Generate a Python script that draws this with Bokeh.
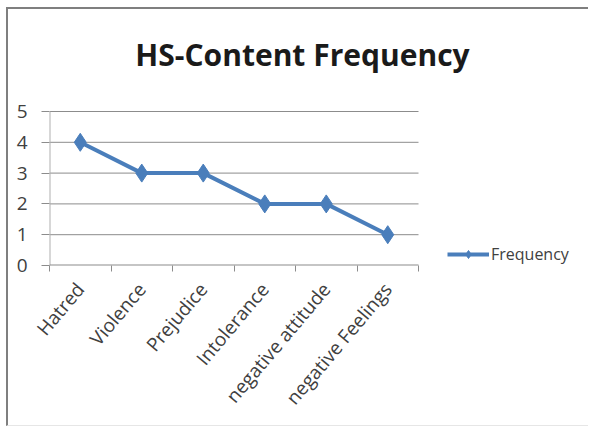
import numpy as np
from bokeh.plotting import figure
from bokeh.models import (Range1d, FixedTicker, Legend, LegendItem, Label,
                          ColumnDataSource)
from bokeh.embed import file_html
from bokeh.resources import INLINE

# Hate-speech content categories and how often each occurred
categories = ["Hatred", "Violence", "Prejudice", "Intolerance",
              "negative attitude", "negative Feelings"]
frequency = [4, 3, 3, 2, 2, 1]
y_ticks = [0, 1, 2, 3, 4, 5]
series_name = "Frequency"
chart_title = "HS-Content Frequency"

BLUE = "#4A7EBB"
GRID = "#8C8C8C"
TEXT = "#404040"
FONT = "Open Sans"

W, H = 582, 419            # canvas size (inside the chart border)
LEFT, BOTTOM = 41, 163
PLOT_W, PLOT_H = 369, 154  # area taken by the category / value axes
n = len(categories)
y_top = y_ticks[-1]
# the frame fills the canvas above and right of the axes so that the
# title and legend can sit inside it; the axes cover only PLOT_W x PLOT_H
x_max = n * (W - LEFT) / PLOT_W
y_max = y_top * (H - BOTTOM) / PLOT_H

# category centres sit halfway between the boundary ticks
xpos = np.arange(n) + 0.5
src = ColumnDataSource(dict(x=xpos, y=frequency, cat=categories))

p = figure(width=W, height=H, title=None,
           x_range=Range1d(0, x_max), y_range=Range1d(0, y_max),
           output_backend="svg", toolbar_location=None,
           min_border_left=LEFT, min_border_right=0,
           min_border_top=0, min_border_bottom=BOTTOM)
p.background_fill_color = "white"
p.border_fill_color = "white"
p.outline_line_color = None
# chart frame: darker left/top edges, faint bottom edge
p.styles = {"margin-left": "6px", "margin-top": "7px",
            "border-left": "2px solid #7F7F7F",
            "border-top": "2px solid #7F7F7F",
            "border-bottom": "1px solid #E6E6E6"}

# x axis: labels at category centres, tick marks at boundaries
xa = p.xaxis[0]
xa.ticker = FixedTicker(ticks=list(xpos), minor_ticks=list(range(n + 1)))
xa.major_label_overrides = {float(x): c for x, c in zip(xpos, categories)}
xa.major_label_orientation = 0.87
xa.major_tick_line_color = None
xa.minor_tick_line_color = GRID
xa.minor_tick_in = 0
xa.minor_tick_out = 6
xa.axis_line_color = None
xa.major_label_text_font = FONT
xa.major_label_text_font_size = "19px"
xa.major_label_text_color = TEXT
xa.major_label_standoff = 14

# y axis
ya = p.yaxis[0]
ya.ticker = FixedTicker(ticks=y_ticks, minor_ticks=[])
ya.major_tick_in = 0
ya.major_tick_out = 8
ya.major_tick_line_color = GRID
ya.minor_tick_line_color = None
ya.axis_line_color = None
ya.major_label_text_font = FONT
ya.major_label_text_font_size = "19px"
ya.major_label_text_color = TEXT
ya.major_label_standoff = 14

p.xgrid.grid_line_color = None
p.ygrid.grid_line_color = None

# horizontal gridlines, value axis line and category axis line
p.segment(x0=0, x1=n, y0=y_ticks[1:], y1=y_ticks[1:],
          line_color=GRID, line_width=1)
p.segment(x0=0, x1=0, y0=0, y1=y_top, line_color="#B0B0B0", line_width=2)
p.segment(x0=0, x1=n, y0=0, y1=0, line_color=GRID, line_width=2)

line_r = p.line("x", "y", source=src, line_color=BLUE, line_width=4)
mark_r = p.scatter("x", "y", source=src, marker="diamond", size=18,
                   fill_color=BLUE, line_color=BLUE, line_width=1)

# chart title, placed in pixels from the frame's lower-left corner
p.add_layout(Label(x=253, y=211, x_units="screen", y_units="screen",
                   text=chart_title, text_font=FONT, text_font_size="30px",
                   text_font_style="bold", text_color="#1A1A1A",
                   text_align="center", text_baseline="alphabetic"))

legend = Legend(items=[LegendItem(label=series_name,
                                  renderers=[line_r, mark_r])],
                location=(PLOT_W + 29, 0), orientation="vertical",
                padding=0, margin=0, spacing=0,
                glyph_width=42, glyph_height=20, label_standoff=2,
                label_text_font=FONT, label_text_font_size="16px",
                label_text_color=TEXT,
                border_line_color=None, background_fill_alpha=0)
p.add_layout(legend, "center")

open("out.html", "w").write(file_html(p, INLINE))
